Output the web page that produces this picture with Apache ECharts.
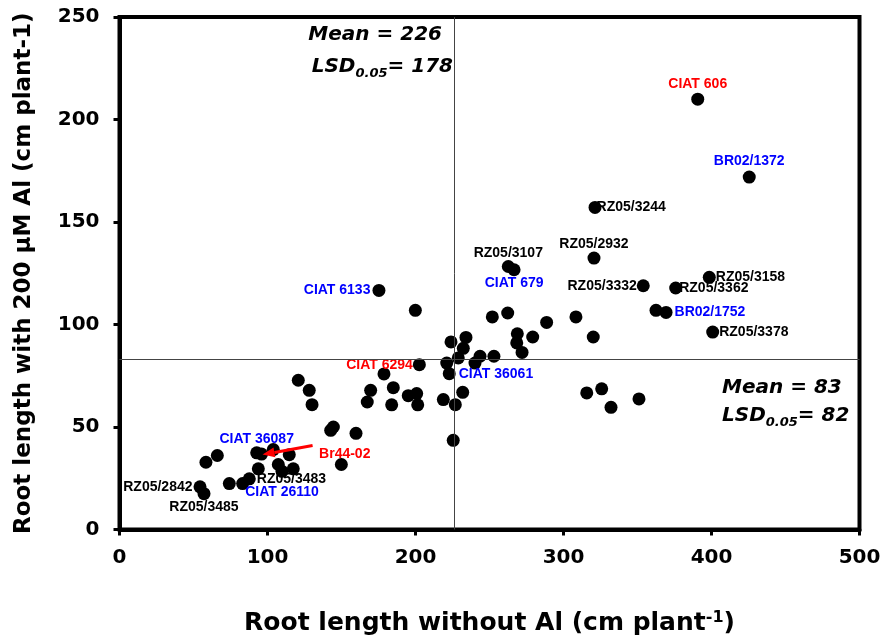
<!DOCTYPE html>
<html>
<head>
<meta charset="utf-8">
<script src="https://cdn.jsdelivr.net/npm/echarts@6/dist/echarts.min.js"></script>
<style>
html, body { margin: 0; padding: 0; background: #fff; }
#chart-container { width: 890px; height: 641px; }
</style>
</head>
<body>
<div id="chart-container"></div>
<script>
// genotype values (cm per plant)
var genotypes = ['', '', '', '', '', '', '', '', '', '', '', '',
  'CIAT 36087', '', 'Br44-02', '', '', '', '', '', 'CIAT 26110', '', '', '', 'RZ05/3483', 'RZ05/2842', 'RZ05/3485',
  'CIAT 6133', '', '', '', '', '', '', 'CIAT 6294', '', 'CIAT 36061', '', '', '', '', '', '', '',
  'RZ05/3244', 'RZ05/2932', 'RZ05/3107', 'CIAT 679', 'RZ05/3332', 'RZ05/3158', 'RZ05/3362', '', 'BR02/1752', 'RZ05/3378',
  '', '', '', '', '', '', '', '', '', '', '', '', '', '', '',
  'CIAT 606', 'BR02/1372'];
var rootNoAl = [120.8, 128.2, 130.1, 144.5, 142.7, 159.8, 149.9, 178.7, 185.0, 169.7, 167.4, 183.9,
  92.7, 103.9, 96.0, 114.7, 66.1, 58.4, 93.8, 107.3, 109.8, 117.4, 74.2, 83.2, 87.7, 54.4, 57.1,
  175.3, 199.9, 234.1, 224.0, 232.3, 228.9, 221.1, 202.6, 240.2, 222.8, 195.1, 200.8, 201.5, 218.8, 226.9, 231.9, 225.5,
  321.3, 320.6, 262.7, 266.6, 353.9, 398.5, 375.8, 362.5, 369.3, 400.8,
  251.9, 262.3, 288.6, 308.4, 320.1, 268.8, 279.2, 268.4, 272.0, 243.6, 253.0, 315.7, 325.8, 332.1, 351.0,
  390.7, 425.5];
var rootAl = [72.8, 67.9, 60.9, 50.0, 48.4, 46.9, 31.7, 75.9, 69.2, 67.9, 62.2, 60.8,
  37.4, 39.0, 36.8, 36.5, 36.1, 32.8, 29.6, 31.7, 28.4, 29.6, 22.4, 22.4, 24.7, 20.8, 17.5,
  116.6, 106.9, 93.7, 91.5, 88.4, 83.7, 81.2, 80.4, 81.2, 76.0, 65.3, 66.3, 60.8, 63.4, 60.9, 66.9, 43.5,
  157.1, 132.4, 128.3, 126.7, 118.9, 123.0, 117.8, 106.9, 105.9, 96.3,
  103.7, 105.6, 101.0, 103.7, 93.9, 95.5, 93.9, 91.0, 86.4, 84.5, 84.5, 66.6, 68.6, 59.6, 63.7,
  209.9, 171.9];
var meanNoAl = 226, lsdNoAl = 178;
var meanAl = 83, lsdAl = 82;
var xTicks = [0, 100, 200, 300, 400, 500];
var yTicks = [0, 50, 100, 150, 200, 250];

var RED = '#ff0000', BLUE = '#0000ff', BLACK = '#000000';
var FONT = 'Arial, "Liberation Sans", sans-serif';
var AXFONT = '"DejaVu Sans", Arial, sans-serif';

// how each named point is labelled
var labelStyle = {
  'CIAT 606':   { color: RED,   position: 'top',    distance: 2,  offset: [0, 0] },
  'BR02/1372':  { color: BLUE,  position: 'top',    distance: 2,  offset: [-10, 0] },
  'RZ05/3244':  { color: BLACK, position: 'right',  distance: -5, offset: [0, -1] },
  'RZ05/2932':  { color: BLACK, position: 'top',    distance: 0,  offset: [25, 5] },
  'RZ05/3107':  { color: BLACK, position: 'top',    distance: 0,  offset: [-8, 0] },
  'CIAT 679':   { color: BLUE,  position: 'bottom', distance: 0,  offset: [-2, 0] },
  'RZ05/3332':  { color: BLACK, position: 'left',   distance: 0,  offset: [0, -2] },
  'RZ05/3158':  { color: BLACK, position: 'right',  distance: 0,  offset: [0, -3] },
  'RZ05/3362':  { color: BLACK, position: 'right',  distance: -3, offset: [0, 3] },
  'BR02/1752':  { color: BLUE,  position: 'right',  distance: 2,  offset: [0, 0] },
  'RZ05/3378':  { color: BLACK, position: 'right',  distance: 0,  offset: [0, 1] },
  'CIAT 6133':  { color: BLUE,  position: 'left',   distance: 2,  offset: [0, 1] },
  'CIAT 6294':  { color: RED,   position: 'left',   distance: 0,  offset: [0, -2] },
  'CIAT 36061': { color: BLUE,  position: 'right',  distance: 3,  offset: [0, 2] },
  'CIAT 36087': { color: BLUE,  position: 'top',    distance: 0,  offset: [-8, 0] },
  'Br44-02':    { color: RED,   position: 'right',  distance: 51, offset: [0, -7] },
  'RZ05/3483':  { color: BLACK, position: 'right',  distance: 1,  offset: [0, -2] },
  'CIAT 26110': { color: BLUE,  position: 'bottom', distance: 7,  offset: [5, 0] },
  'RZ05/2842':  { color: BLACK, position: 'left',   distance: 1,  offset: [0, -5] },
  'RZ05/3485':  { color: BLACK, position: 'bottom', distance: 0,  offset: [-26, -3] }
};

var points = rootNoAl.map(function (x, i) {
  var item = { name: genotypes[i], value: [x, rootAl[i]] };
  var ls = labelStyle[genotypes[i]];
  if (ls) {
    item.label = {
      show: true, formatter: '{b}', color: ls.color, position: ls.position,
      distance: ls.distance, offset: ls.offset,
      fontSize: 14, fontWeight: 'bold', fontFamily: FONT
    };
  }
  return item;
});

var dom = document.getElementById('chart-container');
var myChart = echarts.init(dom, null, { renderer: 'canvas' });

var lsdRich = { sub: { font: 'italic bold 13px ' + AXFONT, lineHeight: 6, verticalAlign: 'bottom' } };

var option = {
  animation: false,
  grid: {
    left: 119.5, right: 30.5, top: 17, bottom: 111,
    show: true, borderColor: '#000', borderWidth: 4, backgroundColor: '#fff'
  },
  xAxis: {
    type: 'value', min: xTicks[0], max: xTicks[xTicks.length - 1], interval: 100,
    name: 'Root length without Al (cm plant{sup|-1})',
    nameLocation: 'middle', nameGap: 80,
    nameTextStyle: {
      fontSize: 25, fontWeight: 'bold', fontFamily: AXFONT, color: '#000',
      rich: { sup: { fontSize: 16, fontWeight: 'bold', fontFamily: AXFONT, verticalAlign: 'top', padding: [0, 0, 12, 0] } }
    },
    axisLine: { show: true, lineStyle: { color: '#000', width: 4 } },
    axisTick: { show: true, inside: false, length: 6, lineStyle: { color: '#000', width: 3 } },
    axisLabel: { margin: 18, fontSize: 20, fontWeight: 'bold', fontFamily: AXFONT, color: '#000' },
    splitLine: { show: false }
  },
  yAxis: {
    type: 'value', min: yTicks[0], max: yTicks[yTicks.length - 1], interval: 50,
    name: 'Root length with 200 \u03bcM Al (cm plant-1)',
    nameLocation: 'middle', nameGap: 84, nameRotate: 90,
    nameTextStyle: { fontSize: 23, fontWeight: 'bold', fontFamily: AXFONT, color: '#000' },
    axisLine: { show: true, lineStyle: { color: '#000', width: 4 } },
    axisTick: { show: true, inside: false, length: 6, lineStyle: { color: '#000', width: 3 } },
    axisLabel: { margin: 20, fontSize: 20, fontWeight: 'bold', fontFamily: AXFONT, color: '#000' },
    splitLine: { show: false }
  },
  series: [{
    type: 'scatter',
    symbol: 'circle',
    symbolSize: 13,
    itemStyle: { color: '#000', opacity: 1 },
    labelLayout: { hideOverlap: false },
    data: points,
    markLine: {
      silent: true, symbol: 'none', animation: false,
      label: { show: false },
      lineStyle: { color: '#444', width: 1, type: 'solid' },
      data: [{ xAxis: meanNoAl }, { yAxis: meanAl }]
    },
    z: 3
  }],
  graphic: [
    {
      id: 'meanX', type: 'text', x: 442, y: 35,
      style: { text: 'Mean = ' + meanNoAl, fill: '#000', font: 'italic bold 20px ' + AXFONT, align: 'right', verticalAlign: 'middle' }
    },
    {
      id: 'lsdX', type: 'text', x: 453, y: 67,
      style: {
        text: 'LSD{sub|0.05}= ' + lsdNoAl, fill: '#000', font: 'italic bold 20px ' + AXFONT,
        align: 'right', verticalAlign: 'middle', lineHeight: 26, rich: lsdRich
      }
    },
    {
      id: 'meanY', type: 'text', x: 722, y: 388,
      style: { text: 'Mean = ' + meanAl, fill: '#000', font: 'italic bold 20px ' + AXFONT, align: 'left', verticalAlign: 'middle' }
    },
    {
      id: 'lsdY', type: 'text', x: 722, y: 416,
      style: {
        text: 'LSD{sub|0.05}= ' + lsdAl, fill: '#000', font: 'italic bold 20px ' + AXFONT,
        align: 'left', verticalAlign: 'middle', lineHeight: 26, rich: lsdRich
      }
    }
  ]
};

if (option && typeof option === 'object') {
  myChart.setOption(option);
}

// red arrow from the Br44-02 label to its point
var bi = genotypes.indexOf('Br44-02');
var p = myChart.convertToPixel({ seriesIndex: 0 }, [rootNoAl[bi], rootAl[bi]]);
var tail = [p[0] + 51, p[1] - 8.5];
var tip = [p[0] + 1, p[1] + 0.5];
var dx = tip[0] - tail[0], dy = tip[1] - tail[1];
var len = Math.sqrt(dx * dx + dy * dy);
var ux = dx / len, uy = dy / len;
var base = [tip[0] - 12 * ux, tip[1] - 12 * uy];
myChart.setOption({
  graphic: [
    { id: 'arrowLine', type: 'line', z: 10, shape: { x1: tail[0], y1: tail[1], x2: base[0], y2: base[1] }, style: { stroke: RED, lineWidth: 3 } },
    { id: 'arrowHead', type: 'polygon', z: 10, shape: { points: [tip, [base[0] - 5 * uy, base[1] + 5 * ux], [base[0] + 5 * uy, base[1] - 5 * ux]] }, style: { fill: RED } }
  ]
});

window.addEventListener('resize', myChart.resize);
</script>
</body>
</html>
